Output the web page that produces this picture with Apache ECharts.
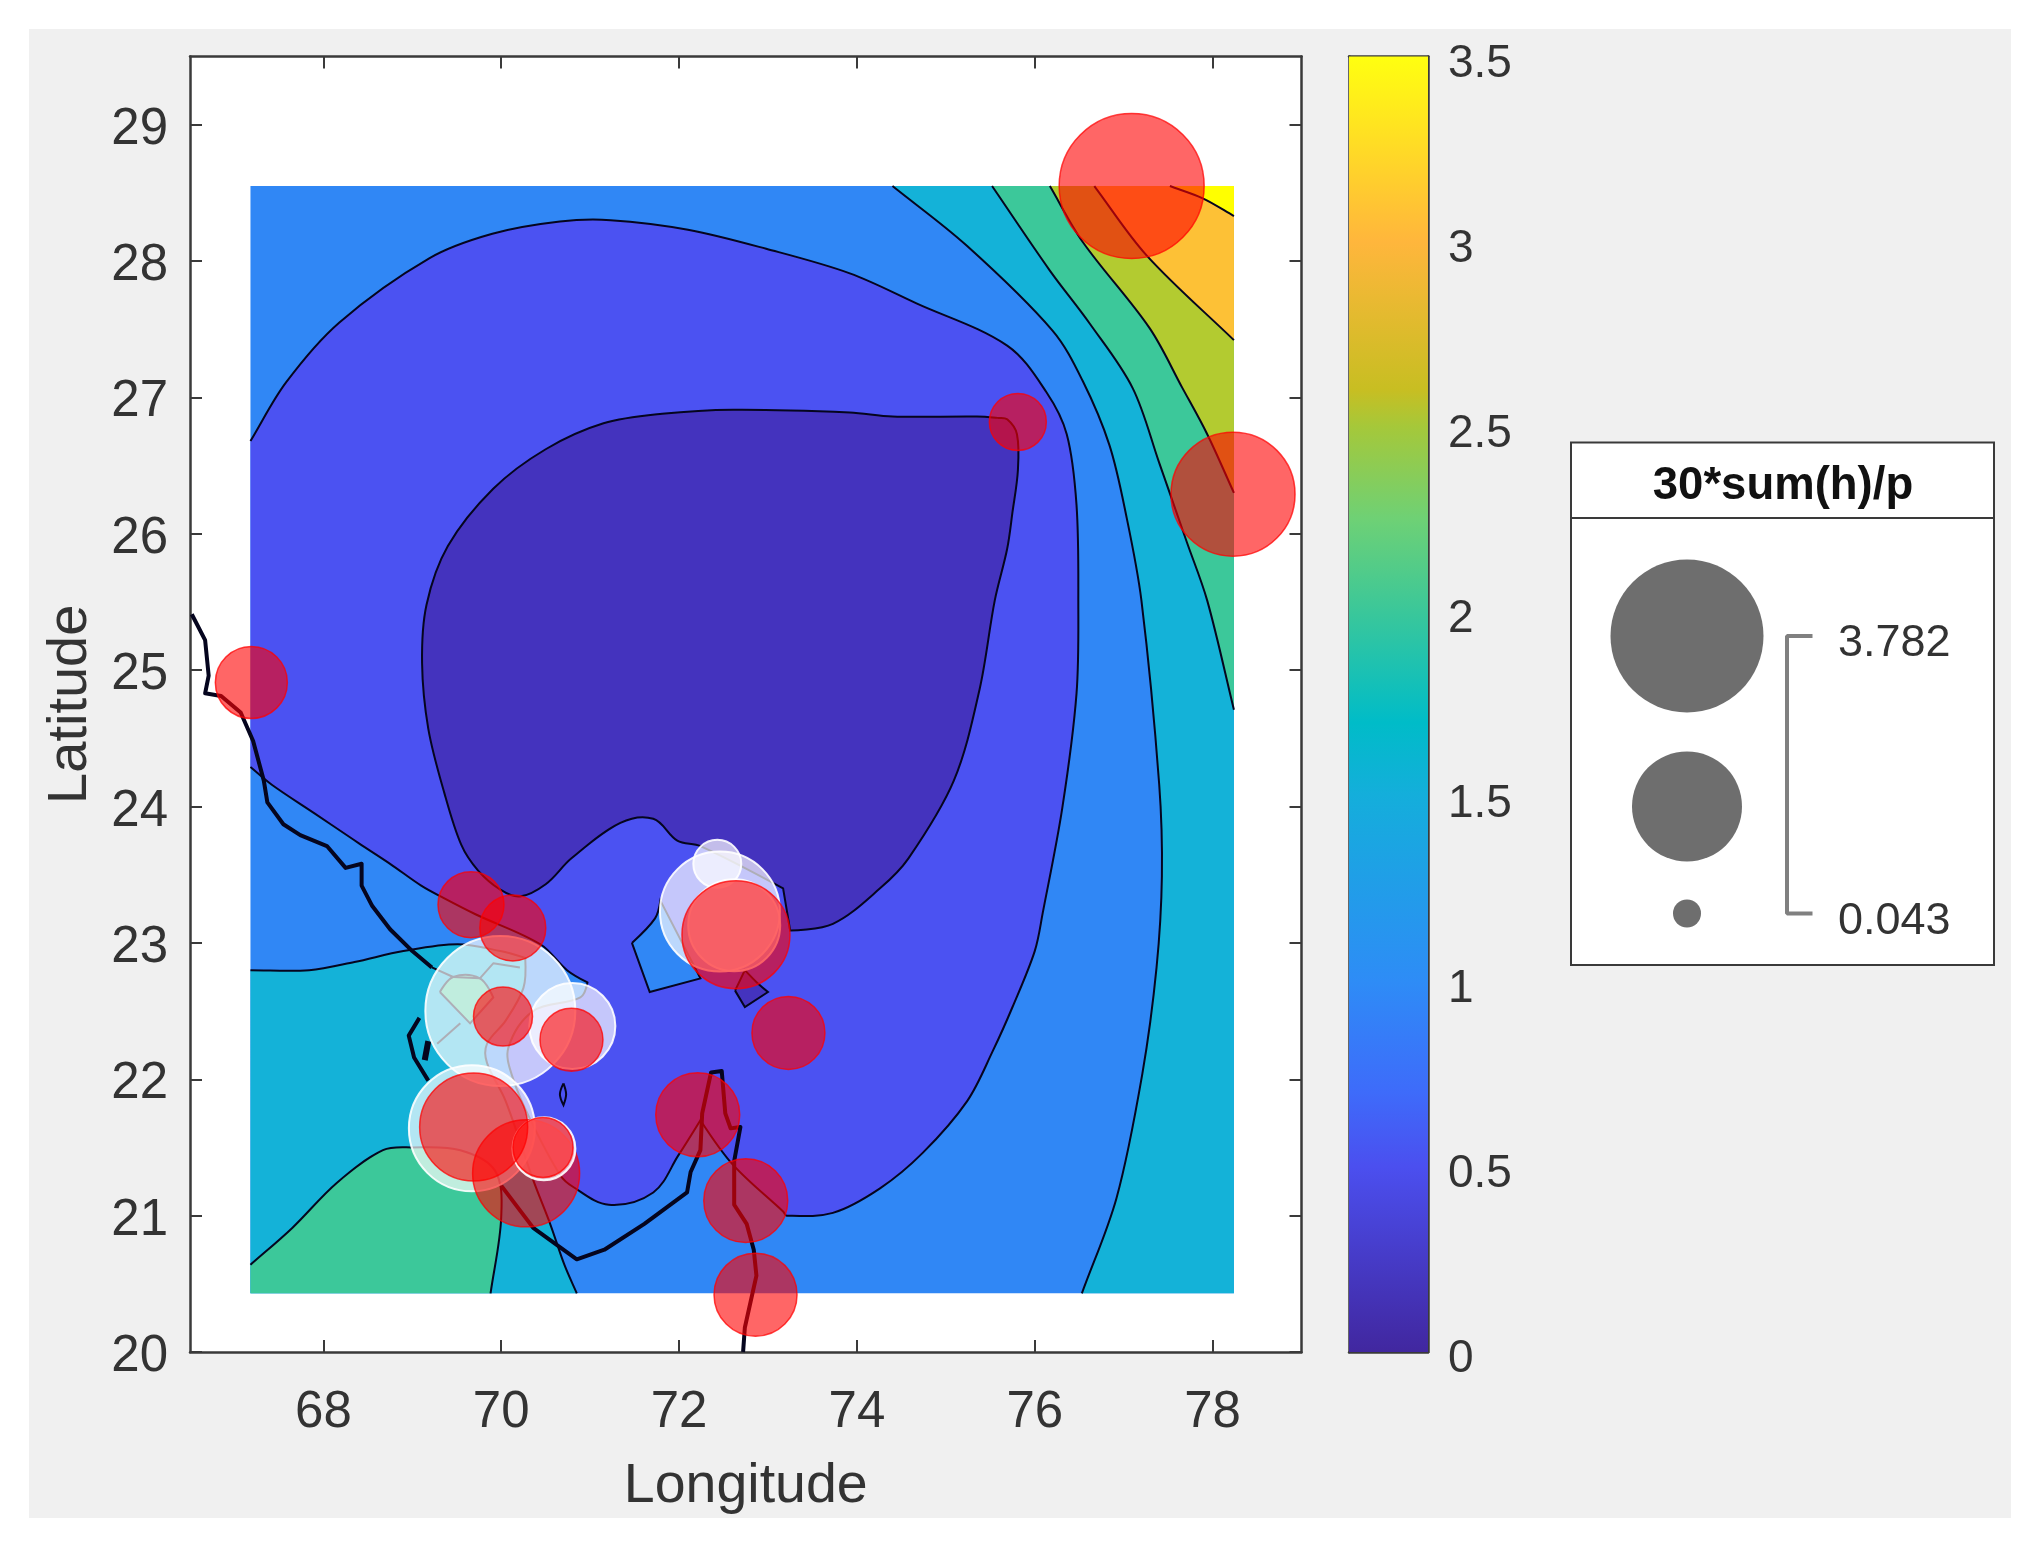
<!DOCTYPE html>
<html>
<head>
<meta charset="utf-8">
<style>html,body{margin:0;padding:0;background:#fff}#c{width:2036px;height:1542px}</style>
<script src="https://cdn.jsdelivr.net/npm/echarts@6/dist/echarts.min.js"></script>
</head>
<body>
<div id="c"></div>
<script>
// ---------- axis data ----------
const lonTicks = [68, 70, 72, 74, 76, 78];
const latTicks = [20, 21, 22, 23, 24, 25, 26, 27, 28, 29];
const lonMin = 67.18, lonMax = 78.24, latMin = 20.43, latMax = 28.55;

// ---------- contour lines [lon, lat] ----------
const contour01 = [[75.58,26.85],[75.35,26.86],[74.40,26.86],[73.92,26.89],[72.61,26.91],[71.81,26.88],[71.15,26.81],[70.50,26.62],[69.91,26.33],[69.40,25.91],[69.16,25.48],[69.11,25.05],[69.18,24.57],[69.36,24.10],[69.55,23.72],[69.74,23.53],[69.99,23.39],[70.21,23.34],[70.50,23.43],[70.79,23.62],[71.34,23.88],[71.71,23.91],[71.98,23.75],[72.24,23.71],[73.17,23.40],[73.25,23.09],[73.73,23.14],[74.26,23.40],[74.58,23.62],[75.09,24.19],[75.38,24.86],[75.55,25.51],[75.69,25.89],[75.75,26.16],[75.81,26.46],[75.80,26.73],[75.69,26.84],[75.58,26.85]];
const contour12 = [[67.18,26.68],[67.58,27.11],[68.18,27.55],[69.19,28.02],[69.90,28.20],[70.66,28.29],[71.23,28.30],[72.10,28.23],[72.98,28.09],[73.92,27.91],[74.67,27.69],[75.69,27.38],[76.13,27.04],[76.36,26.73],[76.47,26.21],[76.49,25.51],[76.47,24.83],[76.31,23.99],[76.09,23.22],[76.00,22.94],[75.75,22.53],[75.53,22.21],[75.24,21.84],[74.74,21.46],[74.26,21.20],[73.73,21.02],[73.21,21.00],[73.17,21.03],[72.61,21.37],[72.24,21.70],[71.99,21.44],[71.71,21.17],[71.21,21.08],[70.81,21.21],[70.66,21.30],[70.33,21.70],[70.13,22.01],[70.08,22.23],[70.36,22.50],[70.89,22.60],[70.97,22.71],[70.74,22.80],[70.44,22.99],[69.71,23.21],[69.35,23.33],[69.10,23.42],[68.75,23.58],[68.40,23.73],[67.90,23.95],[67.42,24.16],[67.18,24.29]];
const contour23Left = [[67.18,22.80],[67.84,22.80],[68.35,22.86],[68.90,22.94],[69.51,22.99],[69.99,22.94],[70.27,22.89],[70.25,22.67],[70.05,22.43],[69.84,22.26],[69.84,22.12],[70.05,21.84],[70.36,21.26],[70.55,20.94],[70.71,20.64],[70.85,20.43]];
const contour23Right = [[74.40,28.55],[75.24,28.11],[76.20,27.49],[76.54,27.12],[76.84,26.65],[77.03,26.13],[77.20,25.51],[77.40,24.16],[77.43,23.49],[77.37,22.82],[77.21,22.04],[76.92,21.13],[76.53,20.43]];
const contour34Left = [[67.18,20.64],[67.65,20.91],[68.15,21.24],[68.67,21.48],[69.00,21.50],[69.54,21.48],[69.93,21.33],[70.00,20.99],[69.88,20.43]];
const contour34Right = [[75.52,28.55],[76.17,27.93],[76.62,27.54],[77.10,27.07],[77.40,26.52],[77.71,25.94],[77.94,25.51],[78.24,24.71]];
const contour45 = [[76.17,28.55],[76.54,28.14],[77.29,27.51],[77.66,27.07],[77.94,26.73],[78.24,26.30]];
const contour56 = [[76.67,28.55],[77.26,28.04],[78.24,27.42]];
const contour67 = [[77.52,28.55],[77.89,28.46],[78.24,28.33]];
const patchBlue = [[71.47,23.00],[71.67,22.64],[72.24,22.74],[71.79,23.31],[71.73,23.18],[71.47,23.00]];
const patchDark = [[72.63,22.65],[72.74,22.53],[73.00,22.64],[72.89,22.70],[72.74,22.80],[72.63,22.65]];
const patchTeal = [[69.31,22.64],[69.46,22.75],[69.76,22.74],[69.91,22.60],[69.65,22.41],[69.31,22.64]];
const patchTiny = [[70.70,21.97],[70.66,21.89],[70.70,21.81],[70.73,21.89],[70.70,21.97]];

// ---------- coastline and borders [lon, lat] ----------
const coastNorth = [[66.52,25.41],[66.67,25.22],[66.71,24.96],[66.67,24.83],[66.85,24.81],[67.07,24.69],[67.21,24.48],[67.33,24.19],[67.37,24.03],[67.55,23.87],[67.74,23.79],[68.04,23.71],[68.25,23.55],[68.43,23.58],[68.43,23.42],[68.55,23.27],[68.75,23.10],[69.00,22.94],[69.22,22.82]];
const coastLoop = [[69.08,22.45],[68.96,22.32],[69.02,22.16],[69.18,21.99]];
const coastSpur = [[69.18,22.28],[69.14,22.14]];
const coastSouth = [[70.00,21.22],[70.36,20.91],[70.85,20.68],[71.16,20.75],[71.61,20.94],[72.09,21.17],[72.13,21.32],[72.24,21.48],[72.26,21.75],[72.36,22.05],[72.48,22.06],[72.52,21.75],[72.58,21.64],[72.69,21.65],[72.62,21.40],[72.62,21.08],[72.76,20.94],[72.84,20.75],[72.87,20.56],[72.74,20.18],[72.72,20.00]];
const borderA = [[69.22,22.82],[69.46,22.75],[69.76,22.74],[69.91,22.85],[70.21,22.82]];
const borderB = [[69.54,22.41],[69.28,22.26]];

// ---------- bubbles [lon, lat, value] ----------
const whiteBubbles = [[69.99,22.50,3.631],[70.80,22.39,1.136],[69.67,21.64,2.537],[72.46,23.23,2.293],[72.43,23.58,0.294],[72.62,23.13,1.312]];
const redUnder = [[70.28,21.31,1.805]];
const whiteOver = [[70.48,21.49,0.569]];
const redBubbles = [[69.66,23.28,0.633],[70.13,23.11,0.633],[70.02,22.46,0.488],[70.79,22.29,0.569],[69.69,21.65,1.841],[70.47,21.50,0.508],[72.21,21.74,1.079],[72.75,21.11,1.079],[72.86,20.42,1.052],[73.23,22.34,0.794],[72.64,23.06,1.841],[75.81,26.82,0.450],[77.09,28.55,3.387],[78.23,26.29,2.454],[67.19,24.91,0.770]];
const legendValues = [3.782, 1.9125, 0.043];
const legendLabels = ['3.782', '0.043'];
const legendTitle = '30*sum(h)/p';

// ---------- colours ----------
const levelColors = ['#4433BE','#4B52F2','#3087F5','#14B2D8','#3CC89A','#B3CB30','#FDC136','#FFFF00'];
const barStops = [[0,'#41279F'],[0.143,'#4B4FEF'],[0.2,'#3E6BFA'],[0.286,'#2E8CF6'],[0.43,'#14AEDB'],[0.486,'#00BCC8'],[0.571,'#3AC79A'],[0.643,'#6ED175'],[0.714,'#A5C83A'],[0.743,'#C8BE22'],[0.857,'#FFB63C'],[1,'#FFFF10']];

const ink = '#333333', frame = '#3a3a3a', font = '"Liberation Sans", Arial, sans-serif';
const radius = v => Math.sqrt(196 + (v - 0.043) * 1513);

// Smooth curve through the read contour points (sharp turns stay sharp), as an SVG path in pixel space.
function curve(px) {
  const n = px.length, closed = n > 2 && px[0][0] === px[n-1][0] && px[0][1] === px[n-1][1];
  const at = i => closed ? px[((i % (n-1)) + (n-1)) % (n-1)] : px[Math.max(0, Math.min(n-1, i))];
  const dirs = px.map((_, i) => {
    const a = at(i-1), b = closed && i === n-1 ? px[0] : px[i], c = at(i+1);
    const ux = b[0]-a[0], uy = b[1]-a[1], vx = c[0]-b[0], vy = c[1]-b[1];
    const lu = Math.hypot(ux,uy), lv = Math.hypot(vx,vy);
    if (lu > 0 && lv > 0 && (ux*vx+uy*vy)/(lu*lv) < 0.6) return [0,0];
    const dx = c[0]-a[0], dy = c[1]-a[1], l = Math.hypot(dx,dy) || 1;
    return [dx/l, dy/l];
  });
  let d = 'M' + px[0][0] + ' ' + px[0][1];
  for (let i = 0; i < n-1; i++) {
    const p = px[i], q = px[i+1], len = Math.hypot(q[0]-p[0], q[1]-p[1]) / 3;
    d += 'C' + (p[0]+dirs[i][0]*len) + ' ' + (p[1]+dirs[i][1]*len) + ' ' + (q[0]-dirs[i+1][0]*len) + ' ' + (q[1]-dirs[i+1][1]*len) + ' ' + q[0] + ' ' + q[1];
  }
  return d;
}
function region(contour, corners, color) {
  return {type:'custom', coordinateSystem:'cartesian2d', xAxisIndex:0, yAxisIndex:0, z:2, silent:true,
    encode:{x:0,y:1}, data:contour, clip:false,
    renderItem(params, api) {
      if (params.dataIndex !== 0) return null;
      const d = curve(contour.map(p => api.coord(p))) + corners.map(c => { const q = api.coord(c); return 'L' + q[0] + ' ' + q[1]; }).join('') + 'Z';
      return {type:'path', shape:{pathData:d}, style:{fill:color, stroke:null}};
    }};
}
function contourLine(contour) {
  return {type:'custom', coordinateSystem:'cartesian2d', xAxisIndex:0, yAxisIndex:0, z:3, silent:true,
    encode:{x:0,y:1}, data:contour, clip:false,
    renderItem(params, api) {
      if (params.dataIndex !== 0) return null;
      return {type:'path', shape:{pathData:curve(contour.map(p => api.coord(p)))}, style:{fill:'none', stroke:'#05051e', lineWidth:2}};
    }};
}
function stroke(points, width) {
  return {type:'line', xAxisIndex:0, yAxisIndex:0, z:3, silent:true, symbol:'none', data:points,
    lineStyle:{color:'#05051e', width:width, join:'round'}, itemStyle:{color:'#05051e'}};
}
const tr = [lonMax, latMax], br = [lonMax, latMin], bl = [lonMin, latMin], tl = [lonMin, latMax];
const series = [
  region([bl, br], [tr, tl], levelColors[2]),
  region(contour23Right, [br, tr], levelColors[3]),
  region(contour34Right, [tr], levelColors[4]),
  region(contour45, [tr], levelColors[5]),
  region(contour56, [tr], levelColors[6]),
  region(contour67, [tr], levelColors[7]),
  region(contour23Left, [bl], levelColors[3]),
  region(contour34Left, [bl], levelColors[4]),
  region(contour12, [], levelColors[1]),
  region(patchBlue, [], levelColors[2]),
  region(contour01, [], levelColors[0]),
  region(patchDark, [], levelColors[0]),
  region(patchTeal, [], levelColors[4])
];
[contour01, contour12, contour23Left, contour23Right, contour34Left, contour34Right, contour45, contour56, contour67, patchBlue, patchDark, patchTeal, patchTiny]
  .forEach(c => series.push(contourLine(c)));
[borderA, borderB].forEach(c => series.push(stroke(c, 2)));
[coastNorth, coastLoop, coastSouth].forEach(c => series.push(stroke(c, 4)));
series.push(stroke(coastSpur, 6));

const bubble = (data, z, fillColor, edge, edgeW) => ({type:'scatter', xAxisIndex:0, yAxisIndex:0, z:z, silent:true, data:data,
  symbolSize:d => 2 * radius(d[2]),
  itemStyle:{color:fillColor, borderColor:edge, borderWidth:edgeW, opacity:1}, clip:false});
const whiteFill = 'rgba(255,255,255,0.68)', whiteEdge = 'rgba(255,255,255,0.9)', redFill = 'rgba(255,0,0,0.6)', redEdge = 'rgba(255,0,0,0.75)';
series.push(bubble(whiteBubbles, 4, whiteFill, whiteEdge, 2));
series.push(bubble(redUnder, 5, redFill, redEdge, 1.5));
series.push(bubble(whiteOver, 6, whiteFill, whiteEdge, 2));
series.push(bubble(redBubbles, 7, redFill, redEdge, 1.5));

// colour bar
series.push({type:'bar', xAxisIndex:2, yAxisIndex:2, z:2, silent:true, barWidth:'100%', data:[3.5],
  itemStyle:{color:new echarts.graphic.LinearGradient(0,1,0,0, barStops.map(s => ({offset:s[0], color:s[1]})))}});

// size legend (axes of grid 2 count px from the box's top-left corner)
const legX = 116, legY = [193.5, 364, 471], brX = [241.5, 216, 216, 241.5];
series.push({type:'scatter', xAxisIndex:4, yAxisIndex:4, z:3, silent:true,
  data:legendValues.map((v,i) => [legX, legY[i], v]),
  symbolSize:d => 2 * radius(d[2]), itemStyle:{color:'#6e6e6e', opacity:1}});
series.push({type:'line', xAxisIndex:4, yAxisIndex:4, z:3, silent:true, symbol:'none',
  data:[[brX[0],legY[0]],[brX[1],legY[0]],[brX[2],legY[2]],[brX[3],legY[2]]],
  lineStyle:{color:'#808080', width:4}});

const lab = {color:ink, fontFamily:font, fontSize:51};
const baseLine = {show:true, onZero:false, lineStyle:{color:frame, width:2.5}};
const tick = {show:true, inside:true, length:12, lineStyle:{color:frame, width:2}};
const none = {show:false};

const option = {
  animation:false,
  backgroundColor:'#ffffff',
  graphic:[
    {type:'rect', z:-10, silent:true, shape:{x:29, y:29, width:1982, height:1489}, style:{fill:'#F0F0F0'}},
    {type:'line', z:10, silent:true, shape:{x1:1571, y1:518, x2:1994, y2:518}, style:{stroke:frame, lineWidth:2}},
    {type:'text', z:10, silent:true, x:1783, y:486, style:{text:legendTitle, font:'bold 45.5px '+font, fill:'#111', textAlign:'center', textVerticalAlign:'middle'}},
    {type:'text', z:10, silent:true, x:1838, y:644, style:{text:legendLabels[0], font:'45px '+font, fill:ink, textAlign:'left', textVerticalAlign:'middle'}},
    {type:'text', z:10, silent:true, x:1838, y:922, style:{text:legendLabels[1], font:'45px '+font, fill:ink, textAlign:'left', textVerticalAlign:'middle'}}
  ],
  grid:[
    {left:190, top:56.5, width:1111.5, height:1295.5, show:true, backgroundColor:'#fff', borderWidth:0, containLabel:false},
    {left:1349, top:56.5, width:79, height:1295.5, show:false},
    {left:1571, top:442.5, width:423, height:522.5, show:true, backgroundColor:'#fff', borderColor:frame, borderWidth:2}
  ],
  xAxis:[
    {type:'value', gridIndex:0, position:'bottom', min:66.5, max:79, axisLine:baseLine,
     axisTick:Object.assign({}, tick, {customValues:lonTicks}), axisLabel:Object.assign({}, lab, {customValues:lonTicks, margin:35}), splitLine:none,
     name:'Longitude', nameLocation:'middle', nameGap:107, nameTextStyle:{color:ink, fontFamily:font, fontSize:55.5}},
    {type:'value', gridIndex:0, position:'top', min:66.5, max:79, axisLine:baseLine,
     axisTick:Object.assign({}, tick, {customValues:lonTicks}), axisLabel:none, splitLine:none},
    {type:'category', gridIndex:1, position:'bottom', data:['colour'], axisLine:baseLine, axisTick:none, axisLabel:none, splitLine:none},
    {type:'category', gridIndex:1, position:'top', data:['colour'], axisLine:baseLine, axisTick:none, axisLabel:none, splitLine:none},
    {type:'value', gridIndex:2, min:0, max:423, show:false}
  ],
  yAxis:[
    {type:'value', gridIndex:0, position:'left', min:20, max:29.5, axisLine:baseLine,
     axisTick:Object.assign({}, tick, {customValues:latTicks}), axisLabel:Object.assign({}, lab, {customValues:latTicks, margin:22, verticalAlign:'top', lineHeight:10}), splitLine:none,
     name:'Latitude', nameLocation:'middle', nameGap:91, nameTextStyle:{color:ink, fontFamily:font, fontSize:56}},
    {type:'value', gridIndex:0, position:'right', min:20, max:29.5, axisLine:baseLine,
     axisTick:Object.assign({}, tick, {customValues:latTicks}), axisLabel:none, splitLine:none},
    {type:'value', gridIndex:1, position:'right', min:0, max:3.5, interval:0.5, axisLine:baseLine,
     axisTick:tick, axisLabel:{color:ink, fontFamily:font, fontSize:46, margin:20, verticalAlign:'top', lineHeight:15}, splitLine:none},
    {type:'value', gridIndex:1, position:'left', min:0, max:3.5, interval:0.5, axisLine:baseLine, axisTick:none, axisLabel:none, splitLine:none},
    {type:'value', gridIndex:2, min:0, max:522.5, inverse:true, show:false}
  ],
  series:series
};
echarts.init(document.getElementById('c'), null, {renderer:'canvas'}).setOption(option);
</script>
</body>
</html>
